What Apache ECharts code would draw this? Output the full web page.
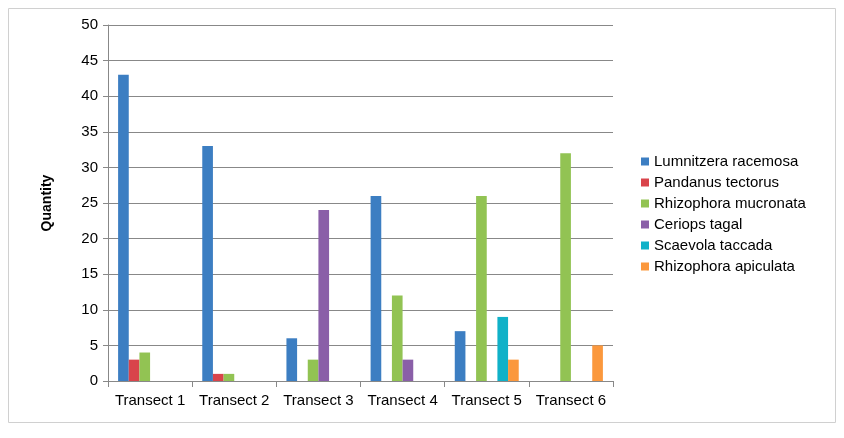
<!DOCTYPE html>
<html>
<head>
<meta charset="utf-8">
<script src="https://cdn.jsdelivr.net/npm/echarts@6/dist/echarts.min.js"></script>
<style>
  html, body { margin: 0; padding: 0; background: #fff; }
  #chart { width: 844px; height: 438px; }
</style>
</head>
<body>
<div id="chart"></div>
<script>
var categories = ['Transect 1', 'Transect 2', 'Transect 3', 'Transect 4', 'Transect 5', 'Transect 6'];
var lumnitzera = [43, 33, 6, 26, 7, 0];
var pandanus = [3, 1, 0, 0, 0, 0];
var mucronata = [4, 1, 3, 12, 26, 32];
var ceriops = [0, 0, 24, 3, 0, 0];
var scaevola = [0, 0, 0, 0, 9, 0];
var apiculata = [0, 0, 0, 0, 3, 5];
var yTicks = [0, 5, 10, 15, 20, 25, 30, 35, 40, 45, 50];

var font = 'Liberation Sans';
var myChart = echarts.init(document.getElementById('chart'));

function bar(name, data) {
  return {
    name: name,
    type: 'bar',
    barGap: 0,
    barCategoryGap: '24%',
    data: data
  };
}

var option = {
  animation: false,
  color: ['#3c7ec2', '#d9444b', '#92c353', '#8a5fa8', '#10b1c8', '#fb983d'],
  textStyle: { fontFamily: font },
  graphic: [{
    type: 'rect',
    shape: { x: 8.5, y: 8.5, width: 827, height: 414 },
    style: { fill: null, stroke: '#d0d0d0', lineWidth: 1 },
    silent: true
  }],
  grid: { left: 108, right: 231, top: 25, bottom: 57 },
  legend: {
    orient: 'vertical',
    left: 636,
    top: 149,
    itemWidth: 8,
    itemHeight: 8,
    itemGap: 6,
    icon: 'rect',
    textStyle: { fontFamily: font, fontSize: 15, color: '#000' }
  },
  xAxis: {
    type: 'category',
    data: categories,
    axisLine: { lineStyle: { color: '#888', width: 1 } },
    axisTick: { show: true, interval: 0, length: 6, lineStyle: { color: '#888' } },
    axisLabel: { interval: 0, color: '#000', fontSize: 15, fontFamily: font, margin: 12 }
  },
  yAxis: {
    type: 'value',
    min: yTicks[0],
    max: yTicks[yTicks.length - 1],
    interval: 5,
    name: 'Quantity',
    nameLocation: 'middle',
    nameGap: 54,
    nameRotate: 90,
    nameTextStyle: { fontFamily: font, fontSize: 14, fontWeight: 'bold', color: '#000' },
    axisLine: { show: true, lineStyle: { color: '#888', width: 1 } },
    axisTick: { show: true, length: 5, lineStyle: { color: '#888' } },
    axisLabel: { color: '#000', fontSize: 15, fontFamily: font, margin: 10 },
    splitLine: { lineStyle: { color: '#888', width: 1 } }
  },
  series: [
    bar('Lumnitzera racemosa', lumnitzera),
    bar('Pandanus tectorus', pandanus),
    bar('Rhizophora mucronata', mucronata),
    bar('Ceriops tagal', ceriops),
    bar('Scaevola taccada', scaevola),
    bar('Rhizophora apiculata', apiculata)
  ]
};

myChart.setOption(option);
</script>
</body>
</html>
